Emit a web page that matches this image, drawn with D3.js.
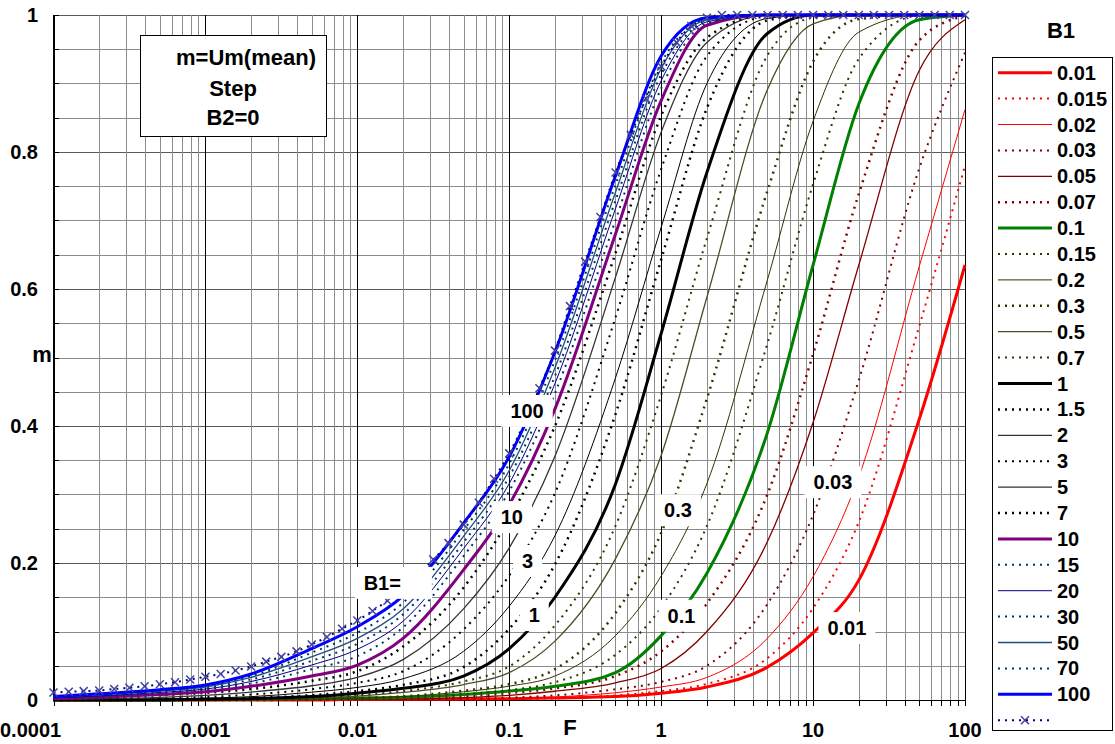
<!DOCTYPE html>
<html>
<head>
<meta charset="utf-8">
<title>m vs F, Step, B2=0</title>
<script src="https://cdn.jsdelivr.net/npm/d3@7"></script>
<style>
  body { margin: 0; background: #fff; }
  svg text { font-family: "Liberation Sans", Arial, sans-serif; font-weight: bold; fill: #000; }
</style>
</head>
<body>
<svg id="chart" width="1115" height="744"></svg>
<script>
// F sample points shared by the curves
const fGrid = [1e-4, 2e-4, 5e-4, 1e-3, 2e-3, 5e-3, 0.01, 0.02, 0.05, 0.1, 0.2, 0.5, 1, 2, 5, 10, 20, 50, 100];

// denser F points for the marker series
const fFine = [
  1e-4, 1.26e-4, 1.58e-4, 2e-4, 2.51e-4, 3.16e-4, 3.98e-4, 5.01e-4, 6.31e-4, 7.94e-4,
  1e-3, 1.26e-3, 1.58e-3, 2e-3, 2.51e-3, 3.16e-3, 3.98e-3, 5.01e-3, 6.31e-3, 7.94e-3,
  0.01, 0.0126, 0.0158, 0.02, 0.0251, 0.0316, 0.0398, 0.0501, 0.0631, 0.0794,
  0.1, 0.126, 0.158, 0.2, 0.251, 0.316, 0.398, 0.501, 0.631, 0.794,
  1, 1.26, 1.58, 2, 2.51, 3.16, 3.98, 5.01, 6.31, 7.94,
  10, 12.6, 15.8, 20, 25.1, 31.6, 39.8, 50.1, 63.1, 79.4, 100];

const b1Labels = ["0.01", "0.015", "0.02", "0.03", "0.05", "0.07", "0.1", "0.15", "0.2", "0.3", "0.5", "0.7",
  "1", "1.5", "2", "3", "5", "7", "10", "15", "20", "30", "50", "70", "100", ""];

// m values at fGrid, one array per B1
const m0_01  = [0, 0, 0, 0, 0, 0, 0.001, 0.001, 0.0015, 0.002, 0.003, 0.005, 0.01, 0.019, 0.048, 0.098, 0.175, 0.41, 0.635];
const m0_015 = [0, 0, 0, 0, 0, 0, 0, 0.0005, 0.001, 0.0015, 0.0024, 0.0067, 0.013, 0.0235, 0.061, 0.134, 0.26, 0.546, 0.78];
const m0_02  = [0, 0, 0, 0, 0, 0, 0, 0.0007, 0.0012, 0.002, 0.0044, 0.0106, 0.019, 0.033, 0.09, 0.18, 0.326, 0.633, 0.862];
const m0_03  = [0, 0, 0, 0, 0, 0, 0.0005, 0.001, 0.0016, 0.0034, 0.0068, 0.0156, 0.0265, 0.05, 0.14, 0.27, 0.467, 0.776, 0.945];
const m0_05  = [0, 0, 0, 0, 0, 0.0005, 0.001, 0.0014, 0.0036, 0.0069, 0.0128, 0.025, 0.046, 0.1, 0.231, 0.405, 0.635, 0.919, 0.993];
const m0_07  = [0, 0, 0, 0, 0, 0.0008, 0.0015, 0.0022, 0.0052, 0.0102, 0.017, 0.035, 0.071, 0.141, 0.3, 0.505, 0.739, 0.963, 0.999];
const m0_1   = [0, 0, 0, 0.0005, 0.001, 0.002, 0.003, 0.004, 0.008, 0.013, 0.02, 0.04, 0.094, 0.185, 0.39, 0.635, 0.87, 0.993, 1];
const m0_15  = [0, 0, 0, 0, 0.0005, 0.001, 0.0016, 0.0034, 0.0085, 0.0144, 0.026, 0.066, 0.135, 0.254, 0.52, 0.753, 0.936, 0.999, 1];
const m0_2   = [0, 0, 0, 0, 0.001, 0.0013, 0.0026, 0.005, 0.012, 0.0202, 0.035, 0.094, 0.181, 0.316, 0.613, 0.845, 0.975, 1, 1];
const m0_3   = [0, 0, 0, 0.0005, 0.001, 0.0013, 0.0028, 0.0054, 0.0136, 0.023, 0.045, 0.127, 0.244, 0.44, 0.743, 0.932, 0.994, 1, 1];
const m0_5   = [0, 0, 0, 0.0003, 0.0012, 0.003, 0.0056, 0.011, 0.0225, 0.04, 0.086, 0.206, 0.357, 0.588, 0.891, 0.987, 1, 1, 1];
const m0_7   = [0, 0, 0, 0.0005, 0.0014, 0.0036, 0.007, 0.013, 0.027, 0.049, 0.109, 0.254, 0.445, 0.674, 0.941, 0.996, 1, 1, 1];
const m1     = [0, 0, 0, 0.001, 0.002, 0.005, 0.01, 0.017, 0.035, 0.075, 0.15, 0.315, 0.535, 0.77, 0.973, 1, 1, 1, 1];
const m1_5   = [0, 0, 0.0005, 0.0015, 0.003, 0.007, 0.013, 0.022, 0.048, 0.104, 0.198, 0.417, 0.643, 0.864, 0.992, 1, 1, 1, 1];
const m2     = [0, 0.0004, 0.0015, 0.0028, 0.0049, 0.0114, 0.0184, 0.031, 0.071, 0.137, 0.24, 0.47, 0.69, 0.9, 0.995, 1, 1, 1, 1];
const m3     = [0.0003, 0.001, 0.0024, 0.0044, 0.008, 0.0158, 0.025, 0.042, 0.103, 0.182, 0.302, 0.558, 0.775, 0.94, 0.998, 1, 1, 1, 1];
const m5     = [0.001, 0.0018, 0.0039, 0.0069, 0.0116, 0.0208, 0.033, 0.059, 0.133, 0.222, 0.356, 0.617, 0.829, 0.96, 1, 1, 1, 1, 1];
const m7     = [0.0018, 0.003, 0.007, 0.0105, 0.016, 0.028, 0.042, 0.078, 0.164, 0.265, 0.4, 0.652, 0.853, 0.967, 1, 1, 1, 1, 1];
const m10    = [0.002, 0.004, 0.008, 0.012, 0.02, 0.035, 0.051, 0.09, 0.19, 0.285, 0.425, 0.68, 0.875, 0.985, 1, 1, 1, 1, 1];
const m15    = [0.003, 0.005, 0.01, 0.015, 0.024, 0.045, 0.064, 0.106, 0.21, 0.305, 0.448, 0.7, 0.893, 0.988, 1, 1, 1, 1, 1];
const m20    = [0.003, 0.006, 0.011, 0.016, 0.027, 0.051, 0.074, 0.115, 0.221, 0.316, 0.462, 0.717, 0.904, 0.99, 1, 1, 1, 1, 1];
const m30    = [0.004, 0.007, 0.012, 0.018, 0.03, 0.057, 0.082, 0.125, 0.23, 0.326, 0.473, 0.729, 0.913, 0.991, 1, 1, 1, 1, 1];
const m50    = [0.004, 0.008, 0.013, 0.019, 0.033, 0.063, 0.09, 0.133, 0.239, 0.335, 0.485, 0.741, 0.922, 0.993, 1, 1, 1, 1, 1];
const m70    = [0.005, 0.008, 0.014, 0.021, 0.035, 0.069, 0.098, 0.142, 0.248, 0.345, 0.496, 0.752, 0.93, 0.994, 1, 1, 1, 1, 1];
const m100   = [0.005, 0.009, 0.015, 0.022, 0.038, 0.075, 0.107, 0.152, 0.258, 0.355, 0.508, 0.765, 0.94, 0.996, 1, 1, 1, 1, 1];

// m values at fFine, last (unlabelled) series with x markers
const mLimit = [
  0.011, 0.012, 0.013, 0.014, 0.016, 0.018, 0.02, 0.023, 0.026, 0.03,
  0.034, 0.038, 0.043, 0.049, 0.056, 0.063, 0.071, 0.081, 0.092, 0.104,
  0.116, 0.13, 0.145, 0.163, 0.183, 0.205, 0.229, 0.256, 0.288, 0.323,
  0.36, 0.405, 0.455, 0.51, 0.575, 0.64, 0.705, 0.77, 0.825, 0.878,
  0.925, 0.96, 0.984, 0.996, 1, 1, 1, 1, 1, 1,
  1, 1, 1, 1, 1, 1, 1, 1, 1, 1, 1];

const seriesValues = [m0_01, m0_015, m0_02, m0_03, m0_05, m0_07, m0_1, m0_15, m0_2, m0_3, m0_5, m0_7,
  m1, m1_5, m2, m3, m5, m7, m10, m15, m20, m30, m50, m70, m100, mLimit];

const yTicks = [0, 0.2, 0.4, 0.6, 0.8, 1];
const xTicks = [0.0001, 0.001, 0.01, 0.1, 1, 10, 100];
const xTickLabels = ["0.0001", "0.001", "0.01", "0.1", "1", "10", "100"];

// labels written on the curves: text, F, m
const curveNotes = [
  ["100", 0.131, 0.422], ["10", 0.104, 0.267], ["3", 0.132, 0.203], ["1", 0.146, 0.124],
  ["B1=", 0.0146, 0.171], ["0.3", 1.29, 0.277], ["0.1", 1.36, 0.123],
  ["0.03", 13.5, 0.318], ["0.01", 16.7, 0.105]];

const boxLines = ["m=Um(mean)", "Step", "B2=0"];

// line style per series
const dot = "2,5";
const styles = [
  { color: "#ff0000", width: 3 },
  { color: "#ff0000", width: 2, dash: dot },
  { color: "#ff0000", width: 1 },
  { color: "#800000", width: 2, dash: dot },
  { color: "#800000", width: 1.3 },
  { color: "#800000", width: 2.5, dash: dot },
  { color: "#008000", width: 3 },
  { color: "#333300", width: 2, dash: dot },
  { color: "#333300", width: 1 },
  { color: "#333300", width: 2.5, dash: dot },
  { color: "#4d4d26", width: 1.3 },
  { color: "#333300", width: 2, dash: dot },
  { color: "#000000", width: 3 },
  { color: "#000000", width: 2.5, dash: dot },
  { color: "#000000", width: 1 },
  { color: "#000000", width: 2, dash: dot },
  { color: "#333333", width: 1.3 },
  { color: "#000000", width: 2.5, dash: dot },
  { color: "#800080", width: 3 },
  { color: "#003366", width: 2, dash: dot },
  { color: "#000080", width: 1 },
  { color: "#003366", width: 2, dash: dot },
  { color: "#1f4f7f", width: 1.3 },
  { color: "#003366", width: 2, dash: dot },
  { color: "#0000ff", width: 3 },
  { color: "#000080", width: 2, dash: dot, marker: true }
];

const plotLeft = 53.5, plotRight = 965, plotTop = 15, plotBottom = 700;

const svg = d3.select("#chart");
svg.append("rect").attr("width", 1115).attr("height", 744).attr("fill", "#fff");

const x = d3.scaleLog().domain([1e-4, 100]).range([plotLeft, plotRight]);
const y = d3.scaleLinear().domain([0, 1]).range([plotBottom, plotTop]);

// grid
const decades = [1e-4, 1e-3, 1e-2, 1e-1, 1, 10];
const minorX = [];
decades.forEach(d => d3.range(2, 10).forEach(k => minorX.push(k * d)));
const hLines = d3.range(0, 21).map(i => i * 0.05);

const grid = svg.append("g").attr("shape-rendering", "crispEdges");
grid.selectAll(".hmin").data(hLines).join("line")
  .attr("x1", plotLeft).attr("x2", plotRight)
  .attr("y1", d => Math.round(y(d)) + 0.5).attr("y2", d => Math.round(y(d)) + 0.5)
  .attr("stroke", (d, i) => i % 4 === 0 ? "#5a5a5a" : "#8c8c8c").attr("stroke-width", 1);
grid.selectAll(".vmin").data(minorX).join("line")
  .attr("y1", plotTop).attr("y2", plotBottom)
  .attr("x1", d => Math.round(x(d)) + 0.5).attr("x2", d => Math.round(x(d)) + 0.5)
  .attr("stroke", "#8c8c8c");
grid.selectAll(".vmaj").data(xTicks).join("line")
  .attr("y1", plotTop).attr("y2", plotBottom)
  .attr("x1", d => Math.round(x(d)) + 0.5).attr("x2", d => Math.round(x(d)) + 0.5)
  .attr("stroke", "#000");

// axes lines and ticks
const axes = svg.append("g").attr("shape-rendering", "crispEdges").attr("stroke", "#000");
axes.append("line").attr("x1", plotLeft).attr("x2", plotLeft).attr("y1", plotTop).attr("y2", plotBottom + 0.5);
axes.append("line").attr("x1", plotLeft).attr("x2", plotRight).attr("y1", plotBottom + 0.5).attr("y2", plotBottom + 0.5);
axes.selectAll(".yt").data(hLines).join("line")
  .attr("x1", plotLeft).attr("x2", plotLeft + 5)
  .attr("y1", d => Math.round(y(d)) + 0.5).attr("y2", d => Math.round(y(d)) + 0.5);
axes.selectAll(".xt").data(minorX.concat(xTicks)).join("line")
  .attr("x1", d => Math.round(x(d)) + 0.5).attr("x2", d => Math.round(x(d)) + 0.5)
  .attr("y1", plotBottom).attr("y2", plotBottom + 6);

svg.selectAll(".ylab").data(yTicks).join("text")
  .attr("x", 38).attr("y", d => y(d) + 7)
  .attr("text-anchor", "end").attr("font-size", 20)
  .text(d => d3.format("~g")(d));
svg.selectAll(".xlab").data(xTicks).join("text")
  .attr("x", (d, i) => i === 0 ? 0 : x(d))
  .attr("y", 737)
  .attr("text-anchor", (d, i) => i === 0 ? "start" : "middle")
  .attr("font-size", 20)
  .text((d, i) => xTickLabels[i]);

svg.append("text").attr("x", 570).attr("y", 735).attr("text-anchor", "middle").attr("font-size", 22).text("F");
svg.append("text").attr("x", 42).attr("y", 362).attr("text-anchor", "middle").attr("font-size", 22).text("m");

// curves
const line = (fs) => d3.line()
  .x((d, i) => x(fs[i]))
  .y(d => y(d))
  .curve(d3.curveMonotoneX);

const curves = svg.append("g").attr("fill", "none").attr("stroke-linejoin", "round");
seriesValues.forEach((vals, i) => {
  const st = styles[i];
  const fs = st.marker ? fFine : fGrid;
  curves.append("path")
    .attr("d", line(fs)(vals))
    .attr("stroke", st.color)
    .attr("stroke-width", st.width)
    .attr("stroke-dasharray", st.dash || null);
  if (st.marker) {
    curves.selectAll(".mk").data(vals).join("path")
      .attr("transform", (d, j) => `translate(${x(fs[j])},${y(d)})`)
      .attr("d", "M-4,-4L4,4M-4,4L4,-4")
      .attr("stroke", "#4040a0").attr("stroke-width", 1.5);
  }
});

// labels on the curves, white boxes
const notes = svg.append("g");
curveNotes.forEach(([t, f, m]) => {
  const g = notes.append("g");
  const rect = g.append("rect").attr("fill", "#fff");
  const txt = g.append("text").attr("x", x(f)).attr("y", y(m) + 7)
    .attr("text-anchor", "middle").attr("font-size", 20).text(t);
  const bb = txt.node().getBBox();
  const extra = t === "B1=" ? 22 : 0;
  rect.attr("x", bb.x - 9).attr("y", bb.y - 5)
    .attr("width", bb.width + 18 + extra).attr("height", bb.height + 10);
});

// info box
svg.append("rect").attr("x", 140.5).attr("y", 35.5).attr("width", 186).attr("height", 101)
  .attr("fill", "#fff").attr("stroke", "#000");
const boxX = [246, 233, 233], boxY = [65, 96, 125];
boxLines.forEach((t, i) => {
  svg.append("text").attr("x", boxX[i]).attr("y", boxY[i]).attr("text-anchor", "middle")
    .attr("font-size", 22).text(t);
});

// legend
svg.append("text").attr("x", 1061).attr("y", 38).attr("text-anchor", "middle").attr("font-size", 22).text("B1");
svg.append("rect").attr("x", 992.5).attr("y", 57.5).attr("width", 120).attr("height", 673)
  .attr("fill", "#fff").attr("stroke", "#000");
const leg = svg.append("g");
b1Labels.forEach((lab, i) => {
  const st = styles[i];
  const ly = 72.7 + i * 25.9;
  leg.append("line").attr("x1", 998).attr("x2", 1052).attr("y1", ly).attr("y2", ly)
    .attr("stroke", st.color).attr("stroke-width", st.width)
    .attr("stroke-dasharray", st.dash || null);
  if (st.marker) {
    leg.append("path").attr("transform", `translate(1025,${ly})`)
      .attr("d", "M-4,-4L4,4M-4,4L4,-4").attr("stroke", "#4040a0").attr("stroke-width", 1.5).attr("fill", "none");
  }
  leg.append("text").attr("x", 1057).attr("y", ly + 7).attr("font-size", 20).text(lab);
});
</script>
</body>
</html>
